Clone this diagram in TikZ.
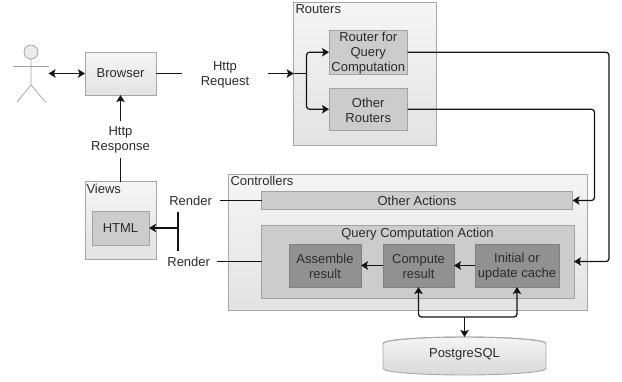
\documentclass[tikz,border=0pt]{standalone}
\usepackage{fontspec}
\setmainfont{Liberation Sans}
\usetikzlibrary{arrows.meta}
\definecolor{txt}{HTML}{2B2B2B}
\definecolor{edge}{HTML}{A6A6A6}
\definecolor{edgeb}{HTML}{8C8C8C}
\newcommand{\sink}{\rule{0pt}{11.5pt}}
\tikzset{
  every node/.style={font=\fontsize{13}{15}\selectfont, text=txt, align=center, outer sep=0pt, inner sep=0pt},
  outerbox/.style={draw=edge, line width=0.9pt, top color=white!96!black, bottom color=white!89!black},
  midbox/.style={draw=edgeb!80!white, line width=0.9pt, fill=black!20},
  darkbox/.style={draw=black!50, line width=0.6pt, fill=black!43},
  caption/.style={anchor=north west},
  wire/.style={draw=black!92, line width=1.25pt, rounded corners=3pt},
  tipped/.style={wire, -{Stealth[length=7pt,width=8.5pt,inset=1.5pt]}},
  twotip/.style={wire, {Stealth[length=7pt,width=8.5pt,inset=1.5pt]}-{Stealth[length=7pt,width=8.5pt,inset=1.5pt]}},
  actorline/.style={draw=black!38, line width=0.7pt}
}
\begin{document}
\begin{tikzpicture}[x=1pt,y=-1pt]
\useasboundingbox (0,0) rectangle (622,381);
% containers
\node[outerbox, minimum width=142.5pt, minimum height=143pt] (routers) at (365,73.5) {};
\node[caption] (routerscap) at (295.5,4.5) {Routers};
\node[outerbox, minimum width=71pt, minimum height=78pt] (views) at (120.5,220.5) {};
\node[caption] (viewscap) at (86.5,184) {Views};
\node[outerbox, minimum width=358.5pt, minimum height=135.5pt] (controllers) at (407.75,242.25) {};
\node[caption] (controllerscap) at (230.5,176) {Controllers};
% inner boxes
\node[outerbox, minimum width=71pt, minimum height=43pt] (browser) at (120.5,73.5) {Browser};
\node[midbox, minimum width=78.5pt, minimum height=42.5pt] (rq) at (368.25,52.25) {\sink Router for\\Query\\Computation};
\node[midbox, minimum width=78.5pt, minimum height=42.5pt] (ro) at (368.25,109.25) {\sink Other\\Routers};
\node[midbox, minimum width=57pt, minimum height=34pt] (html) at (120.5,228) {HTML};
\node[midbox, minimum width=311pt, minimum height=18pt] (other) at (417,200.5) {Other Actions};
\node[midbox, minimum width=312.5pt, minimum height=73pt] (qca) at (417.75,261.5) {};
\node (qcacap) at (417.5,233.5) {\sink Query Computation Action};
\node[darkbox, minimum width=72pt, minimum height=43pt] (assemble) at (325,265.5) {\sink Assemble\\result};
\node[darkbox, minimum width=71pt, minimum height=43pt] (compute) at (418.5,265.5) {\sink Compute\\result};
\node[darkbox, minimum width=84pt, minimum height=43pt] (cache) at (517,265.5) {\sink Initial or\\update cache};
% database
\draw[draw=edge, line width=0.9pt, top color=white!96!black, bottom color=white!85!black]
  (383,343.5) arc[start angle=180, end angle=0, x radius=81.5pt, y radius=6.5pt]
  -- (546,368.5) arc[start angle=0, end angle=180, x radius=81.5pt, y radius=-6.5pt] -- cycle;
\draw[draw=edge, line width=0.9pt] (383,343.5) arc[start angle=180, end angle=360, x radius=81.5pt, y radius=-6.5pt];
\node[minimum width=163pt, minimum height=38pt] (db) at (464.5,356) {};
\node (dbtext) at (464.5,354.5) {PostgreSQL};
% actor
\draw[actorline, fill=white!92!black] (31,52) circle[radius=7pt];
\coordinate (neck) at (31,59);
\coordinate (hip) at (31,85);
\draw[actorline] (neck) -- (hip) (13,66.5) -- (48.5,66.5) (hip) -- (17,102) (hip) -- (45.5,102);
\coordinate (actorhand) at (48.5,73.5);
% labels
\node[minimum width=86pt] (req) at (225,74.5) {Http\\Request};
\node[minimum height=37pt] (resp) at (120.5,139) {\sink Http\\Response};
\node[anchor=east] (render1) at (212,200.5) {Render};
\node[anchor=east] (render2) at (210,261.5) {Render};
% connectors
\draw[twotip] (actorhand) -- (browser.west);
\draw[wire] (browser.east) -- (req.west |- browser.east);
\coordinate (split) at (306.5,73.5);
\draw[tipped] (req.east |- browser.east) -- (routers.west);
\draw[wire] (routers.west) -- (split);
\draw[tipped] (split) |- (rq.west);
\draw[tipped] (split) |- (ro.west);
\draw[tipped] (resp.north) -- (browser.south);
\draw[wire] (views.north) -- (resp.south);
\coordinate (c1) at (609,52.25);
\coordinate (c2) at (594.5,109.25);
\draw[tipped] (rq.east) -- (c1) |- (qca.east);
\draw[tipped] (ro.east) -- (c2) |- (other.east);
\draw[wire] ([xshift=8pt]render1.east) -- (other.west);
\draw[wire] ([xshift=7pt]render2.east) -- (qca.west);
\coordinate (bracetop) at (178,212);
\coordinate (bracebot) at (178,250.5);
\draw[wire] (bracetop) -- (bracebot);
\coordinate (bracemid) at (177.5,228);
\draw[tipped] (bracemid) -- (html.east);
\draw[tipped] (cache.west) -- (compute.east);
\draw[tipped] (compute.west) -- (assemble.east);
\coordinate (busm) at (464.5,317);
\draw[tipped] (busm) -| (compute.south);
\draw[tipped] (busm) -| (cache.south);
\draw[tipped] (busm) -- (db.north);
\end{tikzpicture}
\end{document}
